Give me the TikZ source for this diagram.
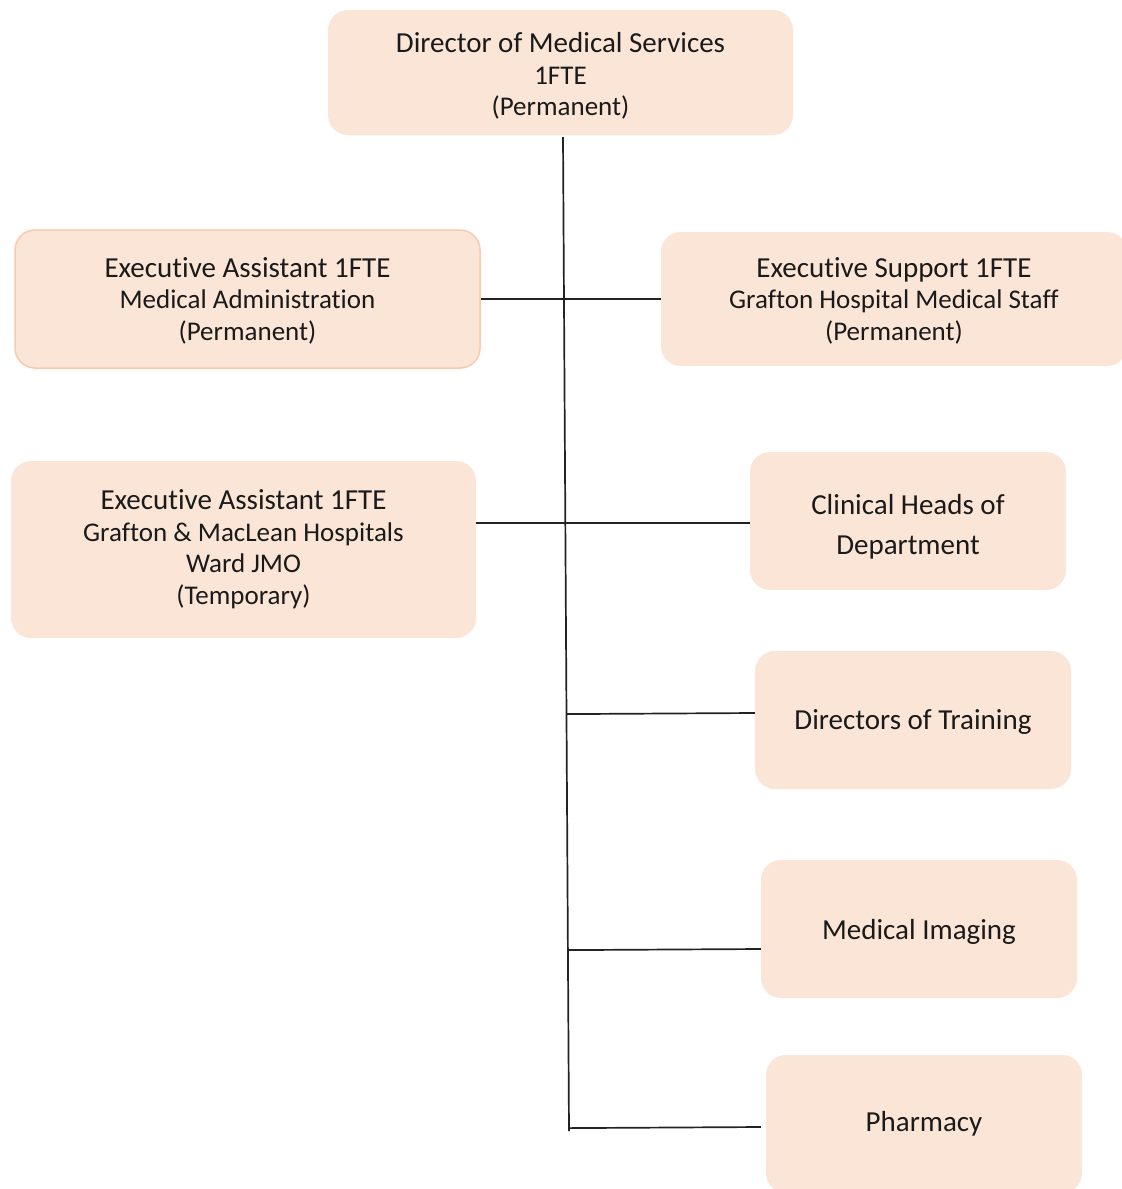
\documentclass[tikz,border=0pt]{standalone}
\usepackage{fontspec}
\setmainfont{Carlito}[Ligatures=NoCommon]
\usetikzlibrary{calc}
\definecolor{boxfill}{HTML}{FBE5D6}
\definecolor{boxedge}{HTML}{F8CBAD}
\definecolor{inktext}{HTML}{1A1A1A}
\definecolor{linkline}{HTML}{222222}
% lines under a box's first line are set a little smaller
\newcommand{\subline}{\fontsize{27}{31.5}\selectfont}
\begin{document}
\begin{tikzpicture}[x=1pt,y=-1pt,
  orgbox/.style={fill=boxfill, draw=none, rounded corners=20pt, inner sep=0pt},
  widebox/.style={orgbox, minimum width=465pt, minimum height=138pt},
  unitbox/.style={orgbox, minimum width=316pt, minimum height=138pt},
  boxtext/.style={inner sep=0pt, align=center, text=inktext,
    font=\fontsize{29}{31.5}\selectfont},
  link/.style={draw=linkline, line width=1.7pt}]
\useasboundingbox (0,0) rectangle (1122,1189);
\fill[white] (0,0) rectangle (1122,1189);

% Director and the line down from it
\node[widebox, minimum height=125pt] (dms) at (560.5,72.5) {};
\node[boxtext] (dmsText) at (560.5,76)
  {Director of Medical Services\\\subline 1FTE\\\subline (Permanent)};
\coordinate (trunkTop) at (563,137);
\coordinate (trunkEnd) at (569,1131);

% Executive staff
\node[widebox, draw=boxedge, line width=1.5pt] (eaAdmin) at (247.5,299) {};
\node[boxtext] (eaAdminText) at (247.5,300.5)
  {Executive Assistant 1FTE\\\subline Medical Administration\\\subline (Permanent)};
\node[widebox, minimum width=466pt, minimum height=134pt] (esStaff) at (894,299) {};
\node[boxtext] (esStaffText) at (894,300.5)
  {Executive Support 1FTE\\\subline Grafton Hospital Medical Staff\\\subline (Permanent)};
\node[widebox, minimum height=177pt] (eaJmo) at (243.5,549.5) {};
\node[boxtext] (eaJmoText) at (243.5,549)
  {Executive Assistant 1FTE\\\subline Grafton \& MacLean Hospitals\\\subline Ward JMO\\\subline (Temporary)};

% Units on the right
\node[unitbox] (heads) at (908,521) {};
\node[boxtext, font=\fontsize{29}{40}\selectfont] (headsText) at (908,527)
  {Clinical Heads of\\Department};
\node[unitbox] (training) at (913,720) {};
\node[boxtext] (trainingText) at (913,722) {Directors of Training};
\node[unitbox] (imaging) at (919,929) {};
\node[boxtext] (imagingText) at (919,932) {Medical Imaging};
\node[unitbox] (pharmacy) at (924,1124) {};
\node[boxtext] (pharmacyText) at (924,1124) {Pharmacy};

% Connectors
\draw[link] (trunkTop) -- (trunkEnd);
\draw[link] (eaAdmin.east) -- (esStaff.west);
\draw[link] ([yshift=-2pt]eaJmo.east |- heads.west) -- ([yshift=-2pt]heads.west);
\draw[link] ($(trunkTop)!([yshift=7pt]training.west)!(trunkEnd)$) -- ([yshift=7pt]training.west);
\draw[link] ($(trunkTop)!([yshift=-20pt]imaging.west)!(trunkEnd)$) -- ([yshift=-20pt]imaging.west);
\draw[link] ($(trunkTop)!([yshift=-3pt]pharmacy.west)!(trunkEnd)$) -- ([xshift=-5pt,yshift=-3pt]pharmacy.west);
\end{tikzpicture}
\end{document}
